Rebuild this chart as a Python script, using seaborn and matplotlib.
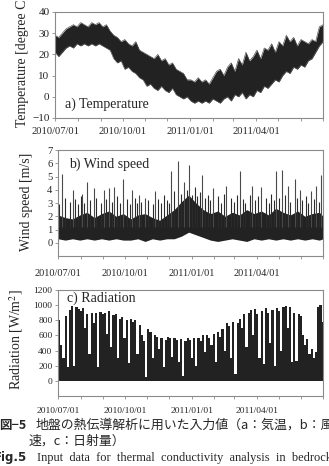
import numpy as np
import pandas as pd
import seaborn as sns
import matplotlib.pyplot as plt

sns.set_theme(style="white")
plt.rcParams['font.family'] = ['Liberation Serif', 'DejaVu Serif']
plt.rcParams['mathtext.fontset'] = 'stix'

# x axis = days since 2010/07/01
tick_days = [0, 92, 184, 274]
tick_labels = ['2010/07/01', '2010/10/01', '2011/01/01', '2011/04/01']
month_days = [0, 31, 62, 92, 123, 153, 184, 215, 243, 274, 304, 335, 365]

# a) temperature, envelope every 5 days
temp_days = list(range(0, 361, 5)) + [365]
temp_lo = [21, 19, 21, 23, 24, 23, 25, 24, 25, 24, 25, 24, 25, 24, 23, 22, 18, 16, 17, 13,
           14, 12, 11, 9, 8, 5, 6, 4, 3, 5, 3, 2, 4, 1, 0, -1, 0, -2, -3, -2,
           -3, -2, -3, -1, -2, -3, -1, 0, -2, 1, 0, 2, -1, 1, 0, 3, 2, 5, 4, 6,
           8, 7, 10, 12, 11, 14, 13, 15, 14, 17, 18, 21, 24, 26]
temp_hi = [29, 28, 30, 32, 33, 34, 33, 35, 34, 33, 35, 34, 35, 33, 34, 31, 29, 28, 26, 27,
           25, 24, 26, 22, 21, 20, 19, 18, 20, 17, 18, 15, 16, 13, 12, 11, 8, 8, 7, 9,
           7, 8, 6, 9, 12, 13, 10, 14, 16, 12, 18, 15, 21, 17, 19, 22, 18, 23, 22, 25,
           21, 26, 24, 29, 26, 28, 24, 27, 26, 25, 27, 26, 33, 34]

# b) wind speed, dense band every 10 days plus peaks
wind_days = list(range(0, 361, 10)) + [365]
wind_lo = [0.3, 0.2, 0.3, 0.2, 0.3, 0.2, 0.3, 0.2, 0.3, 0.2, 0.2, 0.3, 0.1, 0.3, 0.2, 0.3,
           0.3, 0.5, 0.8, 0.6, 0.4, 0.2, 0.1, 0.2, 0.3, 0.2, 0.1, 0.3, 0.2, 0.3, 0.2, 0.3,
           0.2, 0.3, 0.2, 0.3, 0.2, 0.3]
wind_hi = [2.1, 1.9, 1.8, 2.1, 2.3, 1.9, 2.2, 2.4, 2.0, 2.2, 1.8, 2.1, 2.2, 1.9, 1.7, 2.1,
           2.5, 3.1, 3.6, 3.0, 2.5, 2.2, 2.4, 2.0, 2.3, 2.1, 2.5, 2.2, 2.4, 2.1, 2.6, 2.3,
           2.1, 2.4, 2.0, 2.2, 2.3, 2.0]
peak_days = [6, 20, 33, 40, 49, 63, 70, 77, 89, 102, 112, 120, 134, 155, 165, 173,
             180, 198, 214, 232, 251, 267, 280, 300, 309, 317, 326, 333, 349, 355, 362]
peak_vals = [5.2, 4.0, 3.7, 4.6, 4.1, 4.0, 4.1, 4.2, 4.8, 4.0, 3.6, 3.4, 3.9, 5.4, 6.2, 4.6,
             5.9, 5.1, 4.1, 4.3, 5.4, 4.3, 4.2, 5.4, 5.5, 4.3, 4.8, 4.0, 3.9, 4.3, 5.1]
small_days = [2, 10, 17, 24, 28, 31, 36, 44, 52, 59, 66, 74, 81, 85, 95, 99, 106, 109,
              115, 124, 131, 138, 142, 146, 150, 153, 160, 169, 177, 185, 188, 192, 195,
              203, 207, 210, 221, 225, 228, 238, 242, 246, 255, 258, 264, 271, 275, 287,
              290, 294, 297, 305, 313, 320, 329, 336, 341, 345, 352, 359]
small_vals = [2.9, 3.4, 3.1, 3.3, 2.9, 3.5, 3.0, 3.2, 3.4, 3.0, 3.3, 3.1, 3.5, 3.0, 3.3,
              2.9, 3.4, 3.0, 3.1, 3.2, 2.9, 3.3, 3.0, 3.6, 3.2, 3.0, 3.9, 3.7, 4.0, 3.6,
              4.2, 3.5, 3.8, 3.4, 3.6, 3.2, 3.5, 3.0, 3.7, 3.4, 3.1, 3.6, 3.3, 3.0, 3.6,
              3.2, 3.5, 3.4, 3.0, 3.7, 3.2, 3.4, 3.6, 3.1, 3.4, 3.2, 3.5, 3.0, 3.3, 3.1]

# c) radiation, daily peak every 3 days
rad_days = list(range(0, 364, 3))
rad_vals = [800, 480, 300, 850, 180, 940, 990, 200, 980, 950, 920, 960, 700, 880, 350, 900,
            760, 890, 180, 910, 880, 900, 620, 920, 450, 870, 880, 300, 820, 840, 560, 800,
            230, 820, 780, 800, 350, 740, 600, 520, 50, 680, 640, 300, 600, 580, 420, 560,
            180, 540, 580, 560, 320, 570, 540, 250, 550, 60, 520, 560, 540, 300, 570, 200,
            560, 520, 600, 380, 610, 560, 470, 620, 250, 640, 580, 680, 400, 760, 720, 300,
            780, 90, 760, 820, 700, 880, 450, 900, 940, 600, 950, 880, 300, 920, 220, 960,
            900, 500, 940, 200, 960, 920, 400, 980, 990, 700, 970, 250, 900, 260, 880, 850,
            600, 480, 550, 350, 420, 300, 380, 980, 1000, 780]
rad_df = pd.DataFrame({'day': rad_days, 'radiation': rad_vals})

dark = '#222222'
frame = '#8a8a8a'

fig = plt.figure(figsize=(3.29, 4.66), dpi=100)
ax1 = fig.add_axes([0.1672, 0.7468, 0.8146, 0.2275])
ax2 = fig.add_axes([0.1763, 0.4506, 0.8055, 0.2275])
ax3 = fig.add_axes([0.1763, 0.1502, 0.8055, 0.2275])

# temperature
ax1.fill_between(temp_days, temp_lo, temp_hi, color=dark, lw=0)
sns.lineplot(x=temp_days, y=temp_hi, color='#555555', lw=0.5, ax=ax1)
sns.lineplot(x=temp_days, y=temp_lo, color='#555555', lw=0.5, ax=ax1)
ax1.set_ylim(-10, 40)
ax1.set_yticks(range(-10, 41, 10))

# wind speed
ax2.fill_between(wind_days, wind_lo, wind_hi, color=dark, lw=0)
ax2.vlines(small_days, 1.2, small_vals, color='#2a2a2a', lw=0.8)
ax2.vlines(peak_days, 1.2, peak_vals, color='#4a4a4a', lw=0.8)
ax2.set_ylim(-1, 7)
ax2.set_yticks(range(0, 8))

# radiation
sns.histplot(data=rad_df, x='day', weights='radiation', binwidth=3, binrange=(0, 366),
             color=dark, alpha=1, linewidth=0, ax=ax3)
ax3.set_ylim(-200, 1200)
ax3.set_yticks(range(0, 1201, 200))

xpads = [4.0, 6.5, 5.5]
xsizes = [7.6, 7.5, 6.8]
ysizes = [8.0, 7.6, 6.8]
for ax, p, xs, ys in zip([ax1, ax2, ax3], xpads, xsizes, ysizes):
    ax.set_xlim(0, 365)
    ax.set_xticks(tick_days)
    ax.set_xticklabels(tick_labels)
    ax.set_xticks(month_days, minor=True)
    ax.set_xlabel('')
    ax.set_ylabel('')
    for s in ax.spines.values():
        s.set_color(frame)
        s.set_linewidth(0.8)
    ax.tick_params(axis='x', which='both', direction='out', length=2.5, width=0.6,
                   color=frame, pad=p, labelsize=xs, bottom=True)
    ax.tick_params(axis='y', direction='out', length=2.5, width=0.6, color=frame,
                   pad=1.5, labelsize=ys, left=True)

ax1.text(-0.123, 0.533, 'Temperature [degree C]', transform=ax1.transAxes,
         rotation=90, ha='center', va='center', fontsize=10)
ax2.text(-0.117, 0.509, 'Wind speed [m/s]', transform=ax2.transAxes,
         rotation=90, ha='center', va='center', fontsize=10)
ax3.text(-0.158, 0.538, 'Radiation [W/m$^2$]', transform=ax3.transAxes,
         rotation=90, ha='center', va='center', fontsize=10)

ax1.text(0.037, 0.132, 'a) Temperature', transform=ax1.transAxes, ha='left', va='center', fontsize=10)
ax2.text(0.042, 0.868, 'b) Wind speed', transform=ax2.transAxes, ha='left', va='center', fontsize=10)
ax3.text(0.034, 0.925, 'c) Radiation', transform=ax3.transAxes, ha='left', va='center', fontsize=10)

# caption
W, H = 329, 466
cjk = ['Noto Sans CJK JP', 'DejaVu Sans']
fig.text(-1 / W, 1 - 425 / H, '図−5', family=cjk, fontweight='bold', fontsize=9, va='center')
fig.text(36 / W, 1 - 425 / H, '地盤の熱伝導解析に用いた入力値（a：気温，b：風',
         family=cjk, fontsize=9.3, va='center')
fig.text(29 / W, 1 - 441 / H, '速，c：日射量）', family=cjk, fontsize=9.3, va='center')
fig.text(-6 / W, 1 - 458 / H, 'Fig.5', family=['DejaVu Sans'], fontweight='bold',
         fontsize=8.5, va='center')
fig.text(37 / W, 1 - 458 / H, 'Input  data  for  thermal  conductivity  analysis  in  bedrock',
         fontsize=8.9, va='center')

fig.savefig('out.png', dpi=100)
